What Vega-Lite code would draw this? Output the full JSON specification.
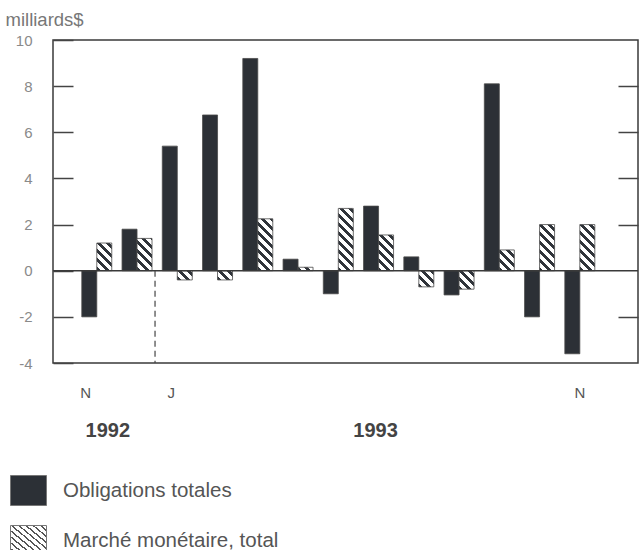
{
  "$schema": "https://vega.github.io/schema/vega-lite/v6.json",
  "width": 585,
  "height": 323,
  "autosize": {"type": "none"},
  "padding": {"left": 53, "top": 40, "right": 2, "bottom": 187},
  "background": "white",
  "config": {
    "view": {"stroke": "#3a3a3a", "strokeWidth": 1.5},
    "font": "Liberation Sans"
  },
  "datasets": {
    "flux": [
      {"mois": "1992-11", "serie": "Obligations totales", "valeur": -2.0},
      {"mois": "1992-11", "serie": "Marché monétaire, total", "valeur": 1.2},
      {"mois": "1992-12", "serie": "Obligations totales", "valeur": 1.8},
      {"mois": "1992-12", "serie": "Marché monétaire, total", "valeur": 1.4},
      {"mois": "1993-01", "serie": "Obligations totales", "valeur": 5.4},
      {"mois": "1993-01", "serie": "Marché monétaire, total", "valeur": -0.4},
      {"mois": "1993-02", "serie": "Obligations totales", "valeur": 6.75},
      {"mois": "1993-02", "serie": "Marché monétaire, total", "valeur": -0.4},
      {"mois": "1993-03", "serie": "Obligations totales", "valeur": 9.2},
      {"mois": "1993-03", "serie": "Marché monétaire, total", "valeur": 2.25},
      {"mois": "1993-04", "serie": "Obligations totales", "valeur": 0.5},
      {"mois": "1993-04", "serie": "Marché monétaire, total", "valeur": 0.15},
      {"mois": "1993-05", "serie": "Obligations totales", "valeur": -1.0},
      {"mois": "1993-05", "serie": "Marché monétaire, total", "valeur": 2.7},
      {"mois": "1993-06", "serie": "Obligations totales", "valeur": 2.8},
      {"mois": "1993-06", "serie": "Marché monétaire, total", "valeur": 1.55},
      {"mois": "1993-07", "serie": "Obligations totales", "valeur": 0.6},
      {"mois": "1993-07", "serie": "Marché monétaire, total", "valeur": -0.7},
      {"mois": "1993-08", "serie": "Obligations totales", "valeur": -1.05},
      {"mois": "1993-08", "serie": "Marché monétaire, total", "valeur": -0.8},
      {"mois": "1993-09", "serie": "Obligations totales", "valeur": 8.1},
      {"mois": "1993-09", "serie": "Marché monétaire, total", "valeur": 0.9},
      {"mois": "1993-10", "serie": "Obligations totales", "valeur": -2.0},
      {"mois": "1993-10", "serie": "Marché monétaire, total", "valeur": 2.0},
      {"mois": "1993-11", "serie": "Obligations totales", "valeur": -3.6},
      {"mois": "1993-11", "serie": "Marché monétaire, total", "valeur": 2.0}
    ],
    "separation": [{"mois": "1992-12"}],
    "zero": [{"valeur": 0}]
  },
  "layer": [
    {
      "data": {"name": "flux"},
      "mark": {"type": "bar", "stroke": "#4a4a4a", "strokeWidth": 0.8},
      "encoding": {
        "x": {
          "field": "mois",
          "type": "ordinal",
          "scale": {
            "domain": ["1992-11", "1992-12", "1993-01", "1993-02", "1993-03", "1993-04", "1993-05", "1993-06", "1993-07", "1993-08", "1993-09", "1993-10", "1993-11"],
            "paddingInner": 0.255,
            "paddingOuter": 0.894,
            "align": 0.4
          },
          "axis": {
            "orient": "bottom",
            "title": null,
            "domain": false,
            "ticks": false,
            "labelAngle": 0,
            "labelOverlap": false,
            "labelExpr": "datum.value == '1992-11' || datum.value == '1993-11' ? 'N' : datum.value == '1993-01' ? 'J' : ''",
            "labelFontSize": 15,
            "labelColor": "#555555",
            "labelPadding": 22,
            "labelOffset": {"condition": [{"test": "datum.value == '1992-11'", "value": -11}, {"test": "datum.value == '1993-01'", "value": -6}], "value": 0}
          }
        },
        "xOffset": {
          "field": "serie",
          "type": "nominal",
          "scale": {"domain": ["Obligations totales", "Marché monétaire, total"], "paddingInner": 0, "paddingOuter": 0}
        },
        "y": {
          "field": "valeur",
          "type": "quantitative",
          "scale": {"domain": [-4, 10], "nice": false, "zero": false},
          "axis": {
            "title": "milliards$",
            "titleAngle": 0,
            "titleX": -48,
            "titleY": -21,
            "titleAlign": "left",
            "titleBaseline": "middle",
            "titleFontSize": 18.5,
            "titleFontWeight": "normal",
            "titleColor": "#777777",
            "values": [10, 8, 6, 4, 2, 0, -2, -4],
            "labelExpr": "datum.value + ''",
            "labelFontSize": 15,
            "labelColor": "#8a8a8a",
            "labelPadding": 41,
            "tickSize": -20,
            "tickColor": "#444444",
            "tickWidth": 1.5,
            "domain": false,
            "grid": false
          }
        },
        "fill": {
          "field": "serie",
          "type": "nominal",
          "scale": {
            "domain": ["Obligations totales", "Marché monétaire, total"],
            "range": [
              "#2c3036",
              {"expr": "{gradient: 'linear', x1: 0, y1: 1, x2: 1, y2: 0, stops: [{offset: 0, color: '#555555'}, {offset: 0.03, color: '#555555'}, {offset: 0.03, color: '#ffffff'}, {offset: 0.1, color: '#ffffff'}, {offset: 0.1, color: '#555555'}, {offset: 0.13, color: '#555555'}, {offset: 0.13, color: '#ffffff'}, {offset: 0.2, color: '#ffffff'}, {offset: 0.2, color: '#555555'}, {offset: 0.23, color: '#555555'}, {offset: 0.23, color: '#ffffff'}, {offset: 0.3, color: '#ffffff'}, {offset: 0.3, color: '#555555'}, {offset: 0.33, color: '#555555'}, {offset: 0.33, color: '#ffffff'}, {offset: 0.4, color: '#ffffff'}, {offset: 0.4, color: '#555555'}, {offset: 0.43, color: '#555555'}, {offset: 0.43, color: '#ffffff'}, {offset: 0.5, color: '#ffffff'}, {offset: 0.5, color: '#555555'}, {offset: 0.53, color: '#555555'}, {offset: 0.53, color: '#ffffff'}, {offset: 0.6, color: '#ffffff'}, {offset: 0.6, color: '#555555'}, {offset: 0.63, color: '#555555'}, {offset: 0.63, color: '#ffffff'}, {offset: 0.7, color: '#ffffff'}, {offset: 0.7, color: '#555555'}, {offset: 0.73, color: '#555555'}, {offset: 0.73, color: '#ffffff'}, {offset: 0.8, color: '#ffffff'}, {offset: 0.8, color: '#555555'}, {offset: 0.83, color: '#555555'}, {offset: 0.83, color: '#ffffff'}, {offset: 0.9, color: '#ffffff'}, {offset: 0.9, color: '#555555'}, {offset: 0.93, color: '#555555'}, {offset: 0.93, color: '#ffffff'}, {offset: 1, color: '#ffffff'}]}"}
            ]
          },
          "condition": {
            "test": "datum.serie == 'Marché monétaire, total'",
            "value": {"expr": "{gradient: 'linear', x1: 0, y1: 1, x2: bandwidth('xOffset') * 90 / (pow(bandwidth('xOffset'), 2) + pow(scale('y', 0) - scale('y', datum.valeur), 2)), y2: 1 - abs(scale('y', 0) - scale('y', datum.valeur)) * 90 / (pow(bandwidth('xOffset'), 2) + pow(scale('y', 0) - scale('y', datum.valeur), 2)), stops: [{offset: 0, color: '#30343a'}, {offset: 0.045, color: '#30343a'}, {offset: 0.045, color: '#ffffff'}, {offset: 0.1, color: '#ffffff'}, {offset: 0.1, color: '#30343a'}, {offset: 0.145, color: '#30343a'}, {offset: 0.145, color: '#ffffff'}, {offset: 0.2, color: '#ffffff'}, {offset: 0.2, color: '#30343a'}, {offset: 0.245, color: '#30343a'}, {offset: 0.245, color: '#ffffff'}, {offset: 0.3, color: '#ffffff'}, {offset: 0.3, color: '#30343a'}, {offset: 0.345, color: '#30343a'}, {offset: 0.345, color: '#ffffff'}, {offset: 0.4, color: '#ffffff'}, {offset: 0.4, color: '#30343a'}, {offset: 0.445, color: '#30343a'}, {offset: 0.445, color: '#ffffff'}, {offset: 0.5, color: '#ffffff'}, {offset: 0.5, color: '#30343a'}, {offset: 0.545, color: '#30343a'}, {offset: 0.545, color: '#ffffff'}, {offset: 0.6, color: '#ffffff'}, {offset: 0.6, color: '#30343a'}, {offset: 0.645, color: '#30343a'}, {offset: 0.645, color: '#ffffff'}, {offset: 0.7, color: '#ffffff'}, {offset: 0.7, color: '#30343a'}, {offset: 0.745, color: '#30343a'}, {offset: 0.745, color: '#ffffff'}, {offset: 0.8, color: '#ffffff'}, {offset: 0.8, color: '#30343a'}, {offset: 0.845, color: '#30343a'}, {offset: 0.845, color: '#ffffff'}, {offset: 0.9, color: '#ffffff'}, {offset: 0.9, color: '#30343a'}, {offset: 0.945, color: '#30343a'}, {offset: 0.945, color: '#ffffff'}, {offset: 1, color: '#ffffff'}]}"}
          },
          "legend": {
            "orient": "none",
            "legendX": -40,
            "legendY": 435,
            "title": null,
            "padding": 0,
            "direction": "vertical",
            "symbolType": "M-1.2,-1H1.2V1H-1.2Z",
            "symbolSize": 900,
            "symbolStrokeColor": "#777777",
            "symbolStrokeWidth": 1,
            "labelFontSize": 20.5,
            "labelColor": "#555555",
            "labelOffset": 19,
            "labelLimit": 400,
            "rowPadding": 15
          }
        }
      }
    },
    {
      "data": {"name": "zero"},
      "mark": {"type": "rule", "color": "#3a3a3a", "strokeWidth": 1.5},
      "encoding": {
        "y": {
          "field": "valeur",
          "type": "quantitative",
          "axis": {
            "orient": "right",
            "title": null,
            "labels": false,
            "domain": false,
            "grid": false,
            "values": [8, 6, 4, 2, -2],
            "tickSize": -20,
            "tickColor": "#444444",
            "tickWidth": 1.5
          }
        }
      }
    },
    {
      "data": {"name": "separation"},
      "mark": {"type": "rule", "color": "#444444", "strokeWidth": 1.2, "strokeDash": [6, 4]},
      "encoding": {
        "x": {
          "field": "mois",
          "type": "ordinal",
          "bandPosition": 1.1,
          "axis": {
            "orient": "bottom",
            "title": null,
            "domain": false,
            "ticks": false,
            "labelAngle": 0,
            "labelOverlap": false,
            "labelExpr": "datum.value == '1992-11' ? '1992' : datum.value == '1993-06' ? '1993' : ''",
            "labelFontSize": 20,
            "labelFontWeight": "bold",
            "labelColor": "#444444",
            "labelPadding": 57,
            "labelOffset": {"condition": [{"test": "datum.value == '1992-11'", "value": 11}], "value": -3}
          }
        },
        "y": {"datum": 0, "axis": null},
        "y2": {"datum": -4}
      }
    }
  ],
  "resolve": {"axis": {"x": "independent", "y": "independent"}}
}
